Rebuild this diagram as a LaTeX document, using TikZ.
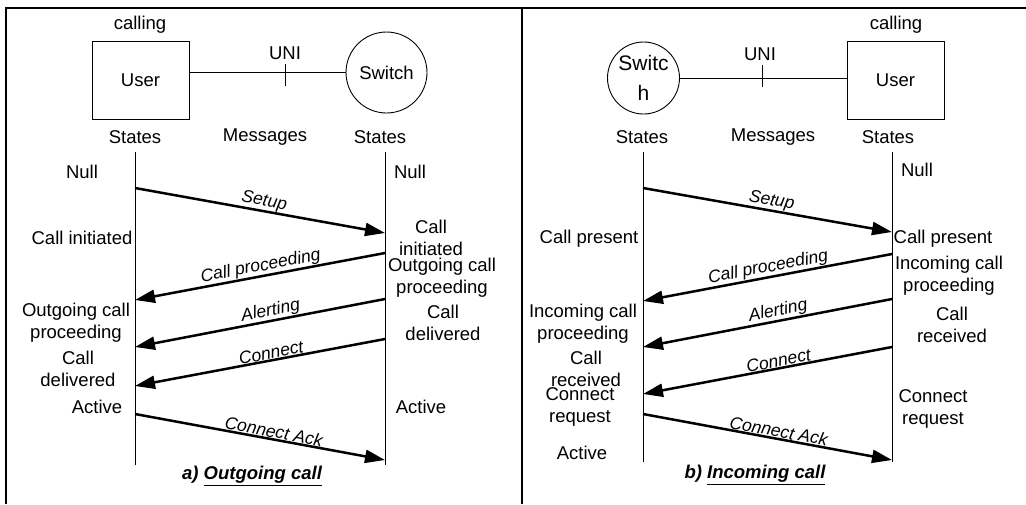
\documentclass[tikz,border=0pt]{standalone}
\usepackage{fontspec}
\setmainfont{Liberation Sans}
\usetikzlibrary{arrows.meta}

\begin{document}
\begin{tikzpicture}[x=1pt, y=-1pt,
	txt/.style={font=\fontsize{18.5}{22}\selectfont, align=center, inner sep=0pt},
	msg/.style={line width=2.5pt, -{Triangle[length=20pt, width=13pt]}},
	msglbl/.style={font=\fontsize{17.5}{20}\selectfont\itshape, sloped, above, inner sep=0.3pt},
	life/.style={line width=0.9pt},
	frame/.style={line width=1.8pt},
	caption/.style={font=\fontsize{18.5}{22}\selectfont\bfseries\itshape, inner sep=0pt}]
	 \useasboundingbox (0, 0) rectangle (1026, 504);
	 \draw[frame] (6, 504) -- (6, 8) -- (1026, 8);
	 \draw[frame] (522, 8) -- (522, 504);

	 % a) outgoing call
	 \node[txt] (callingA) at (140, 25) {calling};
	 \node[draw, line width=0.9pt, minimum width=97pt, minimum height=78pt, txt] (userA) at (140.5, 80) {User};
	 \node[draw, circle, line width=0.9pt, minimum size=81pt, txt] (switchA) at (386.5, 72.5) {Switch};
	 \draw[line width=0.9pt] (switchA.west) -- (switchA.west -| userA.east);
	 \node[txt] (uniA) at (285, 53) {UNI};
	 \draw[line width=0.9pt] (285, 64) -- (285, 86);
	 \node[txt] (statesAl) at (135, 137) {States};
	 \node[txt] (msgsA) at (265, 137) {Messages};
	 \node[txt] (statesAr) at (380, 137) {States};
	 \coordinate (lifeAl) at (135, 152);
	 \coordinate (lifeAr) at (385, 152);
	 \draw[life] (lifeAl) -- ++(0, 313);
	 \draw[life] (lifeAr) -- ++(0, 313);

	 \node[txt] (nullAl) at (82, 172) {Null};
	 \node[txt] (initAl) at (82, 238) {Call initiated};
	 \node[txt] (procAl) at (76, 323) {Outgoing call\\proceeding};
	 \node[txt] (delivAl) at (78, 368.5) {Call\\delivered};
	 \node[txt] (activeAl) at (97, 407) {Active};
	 \node[txt] (nullAr) at (410, 172) {Null};
	 \node[txt] (initAr) at (431, 238) {Call\\initiated};
	 \node[txt] (procAr) at (442, 277.5) {Outgoing call\\proceeding};
	 \node[txt] (delivAr) at (443, 323) {Call\\delivered};
	 \node[txt] (activeAr) at (421, 407) {Active};

	 \foreach \n/\xa/\ya/\xb/\yb/\p/\t in {setupA/135/188/385/233/0.51/Setup,
	   procA/385/253/135/300/0.49/Call proceeding, alertA/385/299/135/347/0.45/Alerting,
	   connA/385/339/135/386/0.45/Connect, ackA/135/414/385/460/0.55/Connect Ack}{
	   \coordinate (\n-s) at (\xa, \ya);
	   \coordinate (\n-e) at (\xb, \yb);
	   \draw[msg] (\n-s) -- (\n-e) node[msglbl, pos=\p] {\t};
	 }
	 \node[caption] (capA) at (252, 476) {a) \underline{Outgoing call}};

	 % b) incoming call
	 \node[txt] (callingB) at (896, 25) {calling};
	 \node[draw, line width=0.9pt, minimum width=97pt, minimum height=78pt, txt] (userB) at (895.5, 80) {User};
	 \node[draw, circle, line width=0.9pt, minimum size=72pt, txt, font=\fontsize{21}{30}\selectfont] (switchB) at (643.5, 78) {Switc\\h};
	 \draw[line width=0.9pt] (switchB.east) -- (switchB.east -| userB.west);
	 \node[txt] (uniB) at (760, 54) {UNI};
	 \draw[line width=0.9pt] (762, 65) -- (762, 87);
	 \node[txt] (statesBl) at (642, 137) {States};
	 \node[txt] (msgsB) at (773, 137) {Messages};
	 \node[txt] (statesBr) at (888, 137) {States};
	 \coordinate (lifeBl) at (643, 152);
	 \coordinate (lifeBr) at (892, 152);
	 \draw[life] (lifeBl) -- ++(0, 310);
	 \draw[life] (lifeBr) -- ++(0, 310);

	 \node[txt] (presBl) at (589, 239) {Call present};
	 \node[txt] (procBl) at (583, 323.5) {Incoming call\\proceeding};
	 \node[txt] (recvBl) at (586, 369) {Call\\received};
	 \node[txt] (reqBl) at (580, 407) {Connect\\request};
	 \node[txt] (activeBl) at (582, 453) {Active};
	 \node[txt] (nullBr) at (917, 170) {Null};
	 \node[txt] (presBr) at (943, 239) {Call present};
	 \node[txt] (procBr) at (949, 275.5) {Incoming call\\proceeding};
	 \node[txt] (recvBr) at (952, 325) {Call\\received};
	 \node[txt] (reqBr) at (933, 408.5) {Connect\\request};

	 \foreach \n/\xa/\ya/\xb/\yb/\p/\t in {setupB/643/188/892/232/0.51/Setup,
	   procB/892/254/643/301/0.49/Call proceeding, alertB/892/299/643/347/0.45/Alerting,
	   connB/892/347/643/394/0.45/Connect, ackB/643/414/892/460/0.54/Connect Ack}{
	   \coordinate (\n-s) at (\xa, \ya);
	   \coordinate (\n-e) at (\xb, \yb);
	   \draw[msg] (\n-s) -- (\n-e) node[msglbl, pos=\p] {\t};
	 }
	 \node[caption] (capB) at (755, 475) {b) \underline{Incoming call}};
\end{tikzpicture}
\end{document}
